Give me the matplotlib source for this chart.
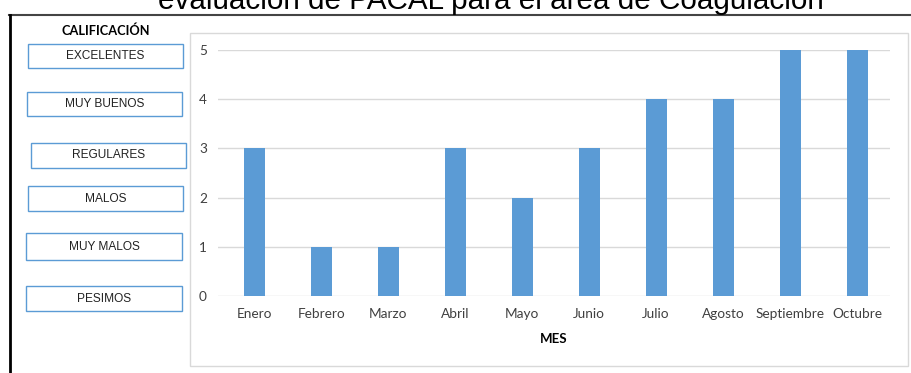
import matplotlib.pyplot as plt
from matplotlib.patches import Rectangle
from matplotlib.lines import Line2D

meses = ['Enero', 'Febrero', 'Marzo', 'Abril', 'Mayo', 'Junio',
         'Julio', 'Agosto', 'Septiembre', 'Octubre']
calificacion = [3, 1, 1, 3, 2, 3, 4, 4, 5, 5]
categorias = ['EXCELENTES', 'MUY BUENOS', 'REGULARES', 'MALOS', 'MUY MALOS', 'PESIMOS']

W, H = 911, 373
fig = plt.figure(figsize=(W / 100, H / 100), dpi=100)
fig.patch.set_facecolor('white')

def fx(px):
    return px / W

def fy(py):
    return 1 - py / H

# title, clipped at top like the original
fig.text(fx(491), fy(9), 'evaluación de PACAL para el área de Coagulación',
         ha='center', va='baseline', fontsize=21.3, family='Liberation Sans', color='black')

# frame lines
fig.add_artist(Line2D([fx(9), fx(910)], [fy(15), fy(15)], color='#444444', lw=1.5))
fig.add_artist(Line2D([fx(9.5), fx(9.5)], [fy(15), fy(373)], color='black', lw=2))

# chart border
fig.add_artist(Rectangle((fx(190), fy(366)), fx(908) - fx(190), fy(33) - fy(366),
                         fill=False, edgecolor='#d9d9d9', lw=1))

# left panel
fig.text(fx(106), fy(31), 'CALIFICACIÓN', ha='center', va='center',
         fontsize=9.2, fontweight='bold', family='Lato', color='black')
cajas = [(28, 44, 183, 68), (27, 92, 182, 116), (31, 143, 186, 168),
         (28, 186, 183, 211), (26, 233, 182, 260), (26, 286, 182, 311)]
for nombre, (x0, y0, x1, y1) in zip(categorias, cajas):
    fig.add_artist(Rectangle((fx(x0), fy(y1)), fx(x1) - fx(x0), fy(y0) - fy(y1),
                             fill=False, edgecolor='#5b9bd5', lw=1))
    fig.text(fx((x0 + x1) / 2), fy((y0 + y1) / 2), nombre, ha='center', va='center',
             fontsize=8.6, family='Liberation Sans', color='#222222')

# bar chart
ax = fig.add_axes([fx(218), fy(296), fx(890) - fx(218), fy(50) - fy(296)])
x = range(len(meses))
ax.bar(x, calificacion, width=0.31, color='#5b9bd5', zorder=3)
ax.set_xlim(-0.54, len(meses) - 0.51)
ax.set_ylim(0, 5)
ax.set_yticks(range(6))
ax.set_xticks(list(x))
ax.set_xticklabels(meses, family='Lato', fontsize=9.8, color='#404040')
for lbl in ax.get_yticklabels():
    lbl.set_family('Lato')
    lbl.set_fontsize(9.8)
    lbl.set_color('#404040')
ax.tick_params(axis='y', length=0, pad=8)
ax.tick_params(axis='x', length=0, pad=9)
ax.grid(axis='y', color='#d9d9d9', lw=1, zorder=0)
for s in ax.spines.values():
    s.set_visible(False)
ax.set_xlabel('MES', family='Lato', fontsize=9.5, fontweight='bold', labelpad=9)

fig.savefig('out.png', dpi=100)
